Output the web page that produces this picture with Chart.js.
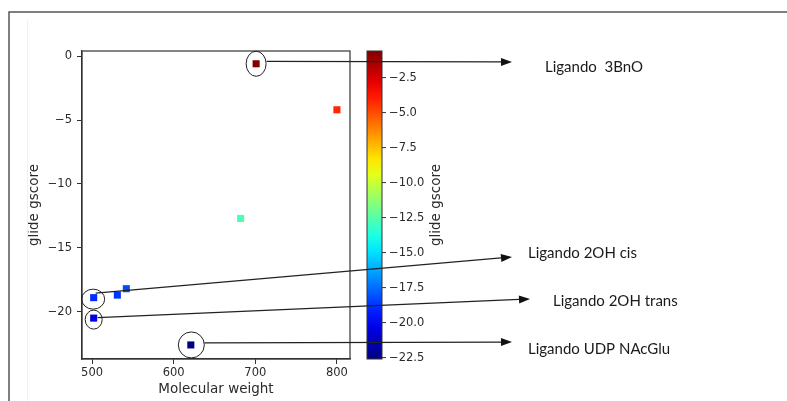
<!DOCTYPE html>
<html lang="en">
<head>
    <meta charset="UTF-8">
    <title>glide gscore vs Molecular weight</title>
    <script src="https://cdn.jsdelivr.net/npm/chart.js"></script>
    <style>
        html, body { margin: 0; padding: 0; background: #fff; }
        #wrap { width: 787px; height: 401px; }
    </style>
</head>
<body>
    <div id="wrap"><canvas id="chart" width="787" height="401"></canvas></div>

    <script>
        // data
        const molWeight = [701, 800, 682, 502, 531, 542, 502, 621];
        const gscore = [-0.6, -4.2, -12.7, -18.9, -18.7, -18.2, -20.5, -22.6];
        const xTicks = [500, 600, 700, 800];
        const yTicks = [0, -5, -10, -15, -20];
        const cbTicks = [-2.5, -5.0, -7.5, -10.0, -12.5, -15.0, -17.5, -20.0, -22.5];
        const ligandNames = ["Ligando  3BnO", "Ligando 2OH cis", "Ligando 2OH trans", "Ligando UDP NAcGlu"];
        const ligandPoint = [0, 3, 6, 7];

        const vmin = Math.min(...gscore);
        const vmax = Math.max(...gscore);

        // jet colormap
        function jet(t) {
            const c = v => Math.round(255 * Math.max(0, Math.min(1, v)));
            return `rgb(${c(1.5 - Math.abs(4 * t - 3))},${c(1.5 - Math.abs(4 * t - 2))},${c(1.5 - Math.abs(4 * t - 1))})`;
        }
        const colorOf = v => jet((v - vmin) / (vmax - vmin));
        const minus = v => String(v).replace('-', '\u2212');

        // annotation layout (ellipse radii, line start, arrow tip, label spot)
        const notes = [
            { rx: 10, ry: 12.5, dx: 0, dy: 0, from: [10.5, -2.5], tip: [512, 62], text: [545, 67] },
            { rx: 11.5, ry: 10, dx: -0.5, dy: 1.5, from: [2.5, -6], tip: [512, 257], text: [528, 253] },
            { rx: 8.5, ry: 9.5, dx: 0, dy: 1.5, from: [4, -2], tip: [530, 299], text: [553, 301] },
            { rx: 13, ry: 13, dx: 0.5, dy: 0, from: [13, -2], tip: [512, 342], text: [528, 349] }
        ];

        const tickFont = { family: "DejaVu Sans", size: 11.5 };
        const textCol = "#2b2b2b";

        const extras = {
            id: "extras",
            afterDraw(chart) {
                const ctx = chart.ctx;
                const a = chart.chartArea;
                const xs = chart.scales.x, ys = chart.scales.y;
                ctx.save();

                // outer frame
                ctx.strokeStyle = "#555";
                ctx.lineWidth = 1.5;
                ctx.beginPath();
                ctx.moveTo(9, 401); ctx.lineTo(9, 12); ctx.lineTo(787, 12);
                ctx.stroke();
                ctx.strokeStyle = "#f0f0f0";
                ctx.lineWidth = 1;
                ctx.beginPath();
                ctx.moveTo(27.5, 20); ctx.lineTo(27.5, 401);
                ctx.stroke();

                // plot box
                ctx.strokeStyle = "#333";
                ctx.lineWidth = 1.2;
                ctx.strokeRect(a.left, a.top, a.right - a.left, a.bottom - a.top);

                // colorbar
                const cbL = 367, cbW = 15, cbT = a.top, cbB = a.bottom;
                const grad = ctx.createLinearGradient(0, cbB, 0, cbT);
                for (let i = 0; i <= 20; i++) grad.addColorStop(i / 20, jet(i / 20));
                ctx.fillStyle = grad;
                ctx.fillRect(cbL, cbT, cbW, cbB - cbT);
                ctx.strokeStyle = "#333";
                ctx.lineWidth = 1;
                ctx.strokeRect(cbL, cbT, cbW, cbB - cbT);
                ctx.font = "11.5px 'DejaVu Sans'";
                ctx.fillStyle = textCol;
                ctx.textAlign = "left";
                ctx.textBaseline = "middle";
                cbTicks.forEach(v => {
                    const y = cbB - (v - vmin) / (vmax - vmin) * (cbB - cbT);
                    ctx.beginPath();
                    ctx.moveTo(cbL + cbW, y); ctx.lineTo(cbL + cbW + 4, y);
                    ctx.stroke();
                    ctx.fillText(minus(v.toFixed(1)), cbL + cbW + 7, y);
                });
                ctx.save();
                ctx.translate(436, (cbT + cbB) / 2);
                ctx.rotate(-Math.PI / 2);
                ctx.textAlign = "center";
                ctx.font = "13.5px 'DejaVu Sans'";
                ctx.fillText("glide gscore", 0, 0);
                ctx.restore();

                // circles, arrows and labels
                ctx.strokeStyle = "#222";
                ctx.fillStyle = "#111";
                notes.forEach((n, i) => {
                    const k = ligandPoint[i];
                    const cx = xs.getPixelForValue(molWeight[k]) + n.dx;
                    const cy = ys.getPixelForValue(gscore[k]) + n.dy;
                    ctx.lineWidth = 1;
                    ctx.beginPath();
                    ctx.ellipse(cx, cy, n.rx, n.ry, 0, 0, Math.PI * 2);
                    ctx.stroke();

                    const sx = cx + n.from[0], sy = cy + n.from[1];
                    const [tx, ty] = n.tip;
                    const ang = Math.atan2(ty - sy, tx - sx);
                    const len = 11, half = 4;
                    const bx = tx - len * Math.cos(ang), by = ty - len * Math.sin(ang);
                    ctx.lineWidth = 1.2;
                    ctx.beginPath();
                    ctx.moveTo(sx, sy); ctx.lineTo(bx, by);
                    ctx.stroke();
                    ctx.beginPath();
                    ctx.moveTo(tx, ty);
                    ctx.lineTo(bx + half * Math.sin(ang), by - half * Math.cos(ang));
                    ctx.lineTo(bx - half * Math.sin(ang), by + half * Math.cos(ang));
                    ctx.closePath();
                    ctx.fill();

                    ctx.font = "15px Lato";
                    ctx.fillStyle = "#1a1a1a";
                    ctx.textAlign = "left";
                    ctx.textBaseline = "middle";
                    ctx.fillText(ligandNames[i], n.text[0], n.text[1]);
                    ctx.fillStyle = "#111";
                });
                ctx.restore();
            }
        };

        new Chart(document.getElementById("chart"), {
            type: "scatter",
            data: {
                datasets: [{
                    label: "glide gscore",
                    data: molWeight.map((m, i) => ({ x: m, y: gscore[i] })),
                    pointStyle: "rect",
                    pointRadius: 5,
                    pointHoverRadius: 5,
                    borderWidth: 0,
                    backgroundColor: gscore.map(colorOf),
                    borderColor: gscore.map(colorOf)
                }]
            },
            options: {
                responsive: false,
                animation: false,
                events: [],
                layout: { padding: { left: 22, right: 437, top: 51, bottom: 0 } },
                plugins: { legend: { display: false }, tooltip: { enabled: false } },
                scales: {
                    x: {
                        type: "linear",
                        min: 487.7,
                        max: 816,
                        afterBuildTicks: s => { s.ticks = xTicks.map(v => ({ value: v })); },
                        afterFit: s => { s.height = 42; },
                        ticks: { font: tickFont, color: textCol, padding: 2, maxRotation: 0, callback: v => minus(v) },
                        grid: { drawOnChartArea: false, tickLength: 5, color: "#333", lineWidth: 1 },
                        border: { color: "#333", width: 1.2 },
                        title: { display: true, text: "Molecular weight", color: textCol, font: { family: "DejaVu Sans", size: 13.5 }, padding: { top: 2, bottom: 3 } }
                    },
                    y: {
                        type: "linear",
                        min: -23.7,
                        max: 0.4,
                        afterBuildTicks: s => { s.ticks = yTicks.map(v => ({ value: v })); },
                        afterFit: s => { s.width = 60; },
                        ticks: { font: tickFont, color: textCol, padding: 5, callback: v => minus(v) },
                        grid: { drawOnChartArea: false, tickLength: 5, color: "#333", lineWidth: 1 },
                        border: { color: "#333", width: 1.2 },
                        title: { display: true, text: "glide gscore", color: textCol, font: { family: "DejaVu Sans", size: 13.5 }, padding: { top: 4, bottom: 4 } }
                    }
                }
            },
            plugins: [extras]
        });
    </script>
</body>
</html>
